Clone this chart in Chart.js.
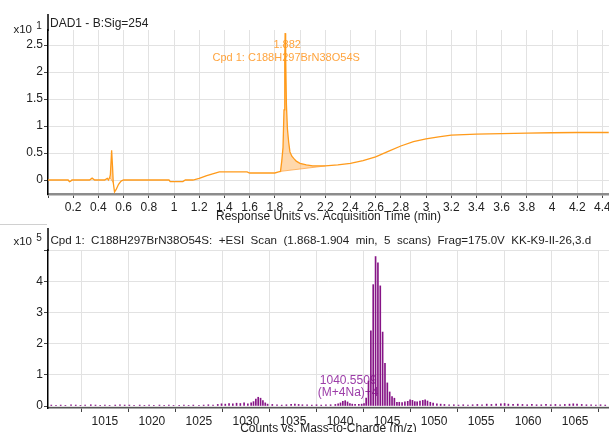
<!DOCTYPE html>
<html>
<head>
<meta charset="utf-8">
<script src="https://cdn.jsdelivr.net/npm/chart.js@4/dist/chart.umd.min.js"></script>
<style>
  html, body { margin: 0; padding: 0; background: #fff; overflow: hidden; width: 609px; height: 432px; }
  canvas { position: absolute; left: 0; display: block; }
  #uv { top: 0; }
  #ms { top: 224px; }
</style>
</head>
<body>
<canvas id="uv" width="609" height="224"></canvas>
<canvas id="ms" width="609" height="212"></canvas>
<script>
// ---- DAD1 trace (signal B, 254 nm), response in units of 10^1 ----
const uvTime = [
  0, 0.16, 0.17, 0.18, 0.19, 0.33, 0.35, 0.37, 0.45, 0.47, 0.48,
  0.49, 0.495, 0.505, 0.512, 0.518, 0.528, 0.54, 0.56, 0.58, 0.6,
  0.96, 0.97, 1.07, 1.09, 1.15, 1.2, 1.26, 1.3, 1.36, 1.58, 1.6, 1.8, 1.83,
  1.845, 1.855, 1.865, 1.873, 1.879, 1.882, 1.886, 1.892, 1.9, 1.91, 1.92,
  1.935, 1.95, 1.97, 2.0, 2.05, 2.1, 2.2, 2.3, 2.4, 2.5, 2.6, 2.7, 2.8,
  2.9, 3.0, 3.1, 3.2, 3.4, 3.6, 3.8, 4.0, 4.2, 4.45
];
const uvSignal = [
  0, 0, -0.03, -0.02, 0, 0, 0.035, 0, 0, 0.03, 0,
  0.05, 0.1, 0.55, 0.25, -0.05, -0.22, -0.18, -0.08, -0.02, 0,
  0, -0.03, -0.03, 0, 0, 0.03, 0.08, 0.11, 0.15, 0.15, 0.13, 0.13, 0.15,
  0.16, 0.35, 0.6, 1.3, 2.2, 2.72, 2.3, 1.4, 0.95, 0.7, 0.52,
  0.44, 0.4, 0.35, 0.31, 0.28, 0.26, 0.26, 0.28, 0.31, 0.36, 0.43, 0.53, 0.63,
  0.71, 0.76, 0.8, 0.83, 0.85, 0.86, 0.87, 0.875, 0.88, 0.88
];
const uvTimeTicks = [0, 0.2, 0.4, 0.6, 0.8, 1, 1.2, 1.4, 1.6, 1.8, 2, 2.2, 2.4, 2.6, 2.8, 3, 3.2, 3.4, 3.6, 3.8, 4, 4.2, 4.4];
const uvSignalTicks = [0, 0.5, 1, 1.5, 2, 2.5];
// integration windows (start / end retention times, min)
const integratedWindows = [[1.845, 2.2], [0.49, 0.518]];
const uvPeakTime = 1.882;
const uvPeakName = 'Cpd 1: C188H297BrN38O54S';

// ---- +ESI scan, counts in units of 10^5 ----
const msMz = [
  1009.3, 1009.8, 1010.3, 1010.8, 1011.4, 1011.9, 1012.4, 1012.9, 1013.5, 1014.0,
  1014.5, 1015.0, 1015.5, 1016.1, 1016.6, 1017.1, 1017.6, 1018.1, 1018.7, 1019.2,
  1019.7, 1020.2, 1020.8, 1021.3, 1021.8, 1022.3, 1022.9, 1023.4, 1023.9, 1024.4,
  1025.0, 1025.5, 1026.0, 1026.5, 1027.0, 1027.4, 1027.8, 1028.2, 1028.6, 1029.0,
  1029.4, 1029.8, 1030.2, 1030.55, 1030.8, 1031.05, 1031.3, 1031.55, 1031.8, 1032.05,
  1032.3, 1032.8, 1033.3, 1033.8, 1034.3, 1034.8, 1035.2, 1035.6, 1036.0, 1036.5,
  1037.0, 1037.5, 1038.0, 1038.5, 1039.0, 1039.5, 1039.8, 1040.05, 1040.3, 1040.5509,
  1040.8, 1041.05, 1041.3, 1041.6, 1042.0, 1042.3, 1042.55, 1042.78, 1043.03, 1043.28,
  1043.53, 1043.78, 1044.03, 1044.28, 1044.53, 1044.78, 1045.03, 1045.28, 1045.53, 1045.78,
  1046.05, 1046.3, 1046.6, 1046.9, 1047.2, 1047.45, 1047.7, 1047.95, 1048.2, 1048.5,
  1048.8, 1049.05, 1049.3, 1049.6, 1049.9, 1050.3, 1050.7, 1051.1, 1051.6, 1052.1,
  1052.6, 1053.1, 1053.6, 1054.1, 1054.6, 1055.1, 1055.6, 1056.1, 1056.6, 1057.1,
  1057.5, 1057.9, 1058.4, 1058.9, 1059.4, 1059.9, 1060.4, 1060.9, 1061.4, 1061.9,
  1062.4, 1062.9, 1063.4, 1063.9, 1064.4, 1064.8, 1065.2, 1065.7, 1066.2, 1066.7,
  1067.2, 1067.7, 1068.2
];
const msCounts = [
  0.03, 0.02, 0.03, 0.02, 0.04, 0.03, 0.02, 0.03, 0.04, 0.03,
  0.02, 0.03, 0.02, 0.03, 0.04, 0.03, 0.03, 0.02, 0.03, 0.02,
  0.03, 0.02, 0.03, 0.02, 0.03, 0.02, 0.02, 0.03, 0.02, 0.03,
  0.02, 0.03, 0.04, 0.03, 0.05, 0.07, 0.06, 0.08, 0.07, 0.09,
  0.08, 0.10, 0.07, 0.10, 0.14, 0.22, 0.28, 0.25, 0.17, 0.10,
  0.06, 0.05, 0.04, 0.03, 0.04, 0.05, 0.06, 0.05, 0.04, 0.04,
  0.03, 0.04, 0.03, 0.04, 0.04, 0.05, 0.07, 0.10, 0.15, 0.17,
  0.13, 0.08, 0.06, 0.05, 0.05, 0.06, 0.08, 0.25, 0.80, 2.41,
  3.89, 4.79, 4.59, 3.85, 2.37, 1.37, 0.74, 0.45, 0.30, 0.25,
  0.12, 0.12, 0.11, 0.13, 0.15, 0.20, 0.18, 0.14, 0.13, 0.16,
  0.18, 0.20, 0.16, 0.12, 0.09, 0.07, 0.06, 0.05, 0.04, 0.04,
  0.03, 0.04, 0.03, 0.04, 0.05, 0.04, 0.06, 0.05, 0.06, 0.07,
  0.08, 0.06, 0.05, 0.06, 0.05, 0.04, 0.05, 0.04, 0.04, 0.05,
  0.04, 0.05, 0.04, 0.05, 0.06, 0.07, 0.06, 0.05, 0.04, 0.04,
  0.03, 0.04, 0.03
];
const mzTicks = [1010, 1015, 1020, 1025, 1030, 1035, 1040, 1045, 1050, 1055, 1060, 1065];
const countTicks = [0, 1, 2, 3, 4, 5];
const msLabelMz = 1040.5509;
const msLabelIon = '(M+4Na)+4';
const msTitle = 'Cpd 1:  C188H297BrN38O54S:  +ESI  Scan  (1.868-1.904  min,  5  scans)  Frag=175.0V  KK-K9-II-26,3.d';

const FONT = '"Liberation Sans", Arial, sans-serif';
Chart.defaults.font.family = FONT;
Chart.defaults.font.size = 12;
Chart.defaults.color = '#222';

const ORANGE = '#ff9a1a';
const ORANGE_FILL = 'rgba(255, 168, 70, 0.45)';
const ORANGE_TEXT = '#ffa43e';
const PURPLE = '#861486';
const PURPLE_TEXT = '#9c3da8';
const GRID = '#e2e2e2';

function fixedTicks(values) {
  return scale => { scale.ticks = values.map(v => ({ value: v })); };
}
function label(ctx, str, x, y, font, color, align) {
  ctx.save();
  ctx.font = font;
  ctx.fillStyle = color;
  ctx.textAlign = align || 'left';
  ctx.textBaseline = 'middle';
  ctx.fillText(str, x, y);
  ctx.restore();
}

// Frame decorations: panel caption, exponent marker, extended y axis line
function makeFrame(spec) {
  return {
    id: 'frame',
    beforeDatasetsDraw(chart) {
      if (spec.annotate) spec.annotate(chart);
    },
    afterDraw(chart) {
      const ctx = chart.ctx;
      const area = chart.chartArea;
      ctx.save();
      ctx.strokeStyle = '#000';
      ctx.lineWidth = 1.5;
      ctx.beginPath();
      ctx.moveTo(area.left, area.top + 1);
      ctx.lineTo(area.left, spec.axisTop);
      ctx.stroke();
      if (spec.rule !== undefined) {
        ctx.strokeStyle = '#d0d0d0';
        ctx.lineWidth = 1;
        ctx.beginPath();
        ctx.moveTo(0, spec.rule + 0.5);
        ctx.lineTo(area.left - 1, spec.rule + 0.5);
        ctx.stroke();
      }
      ctx.restore();
      label(ctx, spec.title, spec.titleX, spec.titleY, spec.titleFont + ' ' + FONT, '#222');
      label(ctx, 'x10', spec.expX - 7, spec.expY + 3.5, '11.5px ' + FONT, '#222', 'right');
      label(ctx, spec.exponent, spec.expX, spec.expY, '10px ' + FONT, '#222', 'center');
    }
  };
}

function frameScales(xTicks, yTicks, xMin, xMax, yMin, yMax, xTitle, xBorder, xAxisHeight, xLabel, yLabel) {
  return {
    x: {
      type: 'linear', min: xMin, max: xMax, offset: false,
      afterBuildTicks: fixedTicks(xTicks),
      afterFit: s => { s.height = xAxisHeight; s.paddingLeft = 0; s.paddingRight = 0; },
      ticks: { padding: 2, maxRotation: 0, autoSkip: false, color: '#222', callback: xLabel },
      grid: { color: GRID, lineWidth: 1, tickLength: 4, tickColor: '#444', tickWidth: 1 },
      border: xBorder,
      title: { display: true, text: xTitle, padding: { top: 0, bottom: 0 }, color: '#222', font: { size: 12 } }
    },
    y: {
      type: 'linear', min: yMin, max: yMax,
      afterBuildTicks: fixedTicks(yTicks),
      afterFit: s => { s.width = 48; s.paddingTop = 0; s.paddingBottom = 0; },
      ticks: { padding: 1, color: '#222', callback: yLabel },
      grid: { color: GRID, lineWidth: 1, tickLength: 4, tickColor: '#444', tickWidth: 1 },
      border: { color: '#000', width: 1.5 }
    }
  };
}

// ---- DAD trace panel ----
const uvPoints = uvTime.map((t, i) => ({ x: t, y: uvSignal[i] }));
const uvDatasets = [{
  data: uvPoints, borderColor: ORANGE, borderWidth: 1.3, pointRadius: 0, tension: 0, fill: false
}];
integratedWindows.forEach(([t0, t1]) => {
  const seg = uvPoints.filter(p => p.x >= t0 && p.x <= t1);
  uvDatasets.push({
    data: seg, borderWidth: 0, borderColor: 'rgba(0,0,0,0)', pointRadius: 0, tension: 0,
    backgroundColor: ORANGE_FILL, fill: '+1'
  });
  uvDatasets.push({
    data: [seg[0], seg[seg.length - 1]], borderColor: 'rgba(255, 160, 60, 0.75)', borderWidth: 1,
    pointRadius: 0, tension: 0, fill: false
  });
});

const uvPeakIndex = uvTime.indexOf(uvPeakTime);

new Chart(document.getElementById('uv'), {
  type: 'line',
  data: { datasets: uvDatasets },
  options: {
    responsive: false, animation: false, events: [],
    layout: { padding: { top: 30, left: 0, right: 0, bottom: 0 } },
    plugins: { legend: { display: false }, tooltip: { enabled: false } },
    scales: frameScales(uvTimeTicks, uvSignalTicks, 0, 4.452, -0.259, 2.778,
      'Response Units vs. Acquisition Time (min)', { color: '#8c8c8c', width: 2.5 }, 30,
      v => (v === 0 ? '' : String(v)), v => String(v))
  },
  plugins: [makeFrame({
    title: 'DAD1 - B:Sig=254', titleX: 50, titleY: 24, titleFont: '12px',
    exponent: '1', expX: 39, expY: 26.5, axisTop: 14,
    annotate(chart) {
      const x = chart.scales.x.getPixelForValue(uvPeakTime);
      const yTop = chart.scales.y.getPixelForValue(uvSignal[uvPeakIndex]);
      label(chart.ctx, uvPeakTime.toFixed(3), x + 2, yTop + 12, '11px ' + FONT, ORANGE_TEXT, 'center');
      label(chart.ctx, uvPeakName, x + 1, yTop + 25, '11px ' + FONT, ORANGE_TEXT, 'center');
    }
  })]
});

// ---- mass spectrum panel ----
const msIndex = msMz.indexOf(msLabelMz);
new Chart(document.getElementById('ms'), {
  type: 'bar',
  data: {
    datasets: [{
      data: msMz.map((m, i) => ({ x: m, y: msCounts[i] })),
      backgroundColor: PURPLE, borderWidth: 0, barThickness: 1
    }]
  },
  options: {
    responsive: false, animation: false, events: [],
    layout: { padding: { top: 26, left: 0, right: 0, bottom: 0 } },
    plugins: { legend: { display: false }, tooltip: { enabled: false } },
    scales: frameScales(mzTicks, countTicks, 1008.95, 1068.6, -0.064, 5,
      'Counts vs. Mass-to-Charge (m/z)', { color: '#555', width: 1.5 }, 28,
      v => (v === mzTicks[0] ? '' : String(v)), v => (v === 5 ? '' : String(v)))
  },
  plugins: [makeFrame({
    title: msTitle, titleX: 50.5, titleY: 16.5, titleFont: '11.6px',
    exponent: '5', expX: 39, expY: 14.5, axisTop: 4, rule: 0,
    annotate(chart) {
      const x = chart.scales.x.getPixelForValue(msLabelMz);
      const yTop = chart.scales.y.getPixelForValue(msCounts[msIndex]);
      label(chart.ctx, msLabelMz.toFixed(4), x + 3, yTop - 20, '12px ' + FONT, PURPLE_TEXT, 'center');
      label(chart.ctx, msLabelIon, x + 3, yTop - 8, '12px ' + FONT, PURPLE_TEXT, 'center');
    }
  })]
});
</script>
</body>
</html>
